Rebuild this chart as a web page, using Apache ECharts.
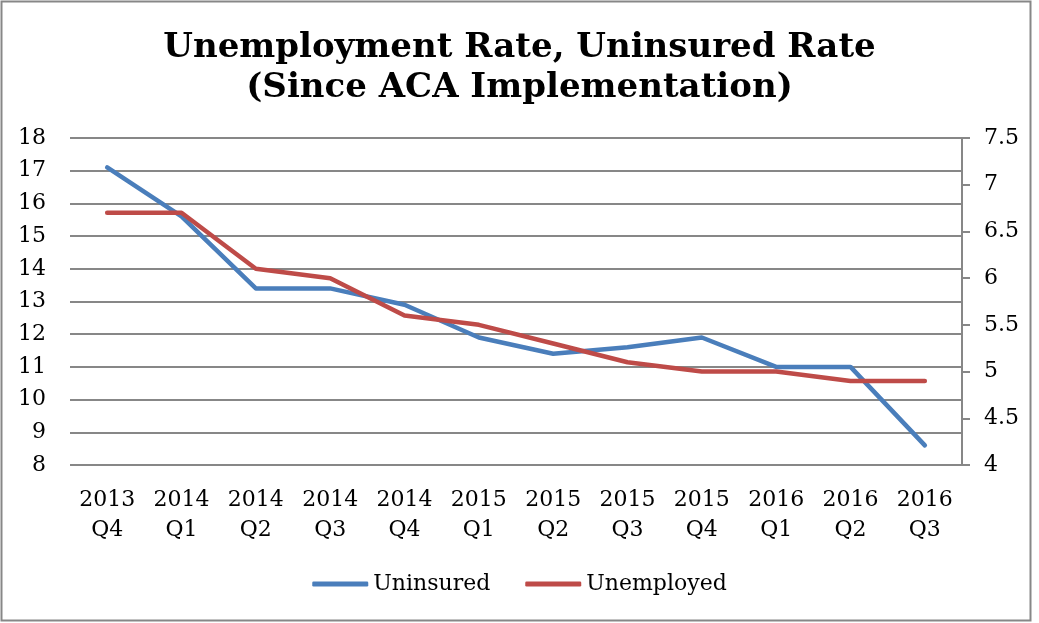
<!DOCTYPE html>
<html>
<head>
<meta charset="utf-8">
<title>Unemployment Rate, Uninsured Rate</title>
<script src="https://cdn.jsdelivr.net/npm/echarts@6/dist/echarts.min.js"></script>
<style>
    html, body { margin: 0; padding: 0; background: #fff; }
    #chart { width: 1039px; height: 623px; }
</style>
</head>
<body>
<div id="chart"></div>
<script>
// quarters since ACA implementation
const categories = [
    '2013\nQ4', '2014\nQ1', '2014\nQ2', '2014\nQ3', '2014\nQ4', '2015\nQ1',
    '2015\nQ2', '2015\nQ3', '2015\nQ4', '2016\nQ1', '2016\nQ2', '2016\nQ3'
]
// left axis
const uninsured = [17.1, 15.6, 13.4, 13.4, 12.9, 11.9, 11.4, 11.6, 11.9, 11.0, 11.0, 8.6]
// right axis
const unemployed = [6.7, 6.7, 6.1, 6.0, 5.6, 5.5, 5.3, 5.1, 5.0, 5.0, 4.9, 4.9]

const FONT = 'DejaVu Serif'
const GRAY = '#878787'

const chart = echarts.init(document.getElementById('chart'))

const option = {
    backgroundColor: '#fff',
    animation: false,
    textStyle: { fontFamily: FONT },
    title: {
        text: 'Unemployment Rate, Uninsured Rate\n(Since ACA Implementation)',
        left: 'center',
        top: 23,
        textStyle: {
            fontFamily: FONT,
            fontSize: 34,
            fontWeight: 'bold',
            lineHeight: 40,
            color: '#000'
        }
    },
    legend: {
        left: 'center',
        top: 568,
        icon: 'roundRect',
        itemWidth: 56,
        itemHeight: 5,
        itemGap: 35,
        textStyle: { fontFamily: FONT, fontSize: 22, color: '#000' },
        data: ['Uninsured', 'Unemployed']
    },
    grid: {
        left: 70,
        right: 77,
        top: 138,
        bottom: 158,
        containLabel: false
    },
    graphic: [
        {
            type: 'rect',
            shape: { x: 1.5, y: 1.5, width: 1029, height: 619 },
            style: { fill: 'none', stroke: GRAY, lineWidth: 2 },
            silent: true
        }
    ],
    xAxis: {
        type: 'category',
        boundaryGap: true,
        data: categories,
        axisLine: { show: false },
        axisTick: { show: false },
        axisLabel: {
            interval: 0,
            margin: 20,
            fontFamily: FONT,
            fontSize: 22,
            lineHeight: 30,
            color: '#000'
        }
    },
    yAxis: [
        {
            type: 'value',
            min: 8,
            max: 18,
            interval: 1,
            position: 'left',
            axisLine: { show: false },
            axisTick: { show: false },
            axisLabel: { margin: 24, fontFamily: FONT, fontSize: 22, color: '#000' },
            splitLine: { lineStyle: { color: GRAY, width: 2 } }
        },
        {
            type: 'value',
            min: 4,
            max: 7.5,
            interval: 0.5,
            position: 'right',
            axisLine: { show: true, lineStyle: { color: GRAY, width: 2 } },
            axisTick: { show: true, length: 8, lineStyle: { color: GRAY, width: 2 } },
            axisLabel: { margin: 22, fontFamily: FONT, fontSize: 22, color: '#000' },
            splitLine: { show: false }
        }
    ],
    series: [
        {
            name: 'Uninsured',
            type: 'line',
            yAxisIndex: 0,
            symbol: 'none',
            data: uninsured,
            itemStyle: { color: '#4A7EBB' },
            lineStyle: { color: '#4A7EBB', width: 4.5, cap: 'round', join: 'round' }
        },
        {
            name: 'Unemployed',
            type: 'line',
            yAxisIndex: 1,
            symbol: 'none',
            data: unemployed,
            itemStyle: { color: '#BE4B48' },
            lineStyle: { color: '#BE4B48', width: 4.5, cap: 'round', join: 'round' }
        }
    ]
}

chart.setOption(option)
</script>
</body>
</html>
